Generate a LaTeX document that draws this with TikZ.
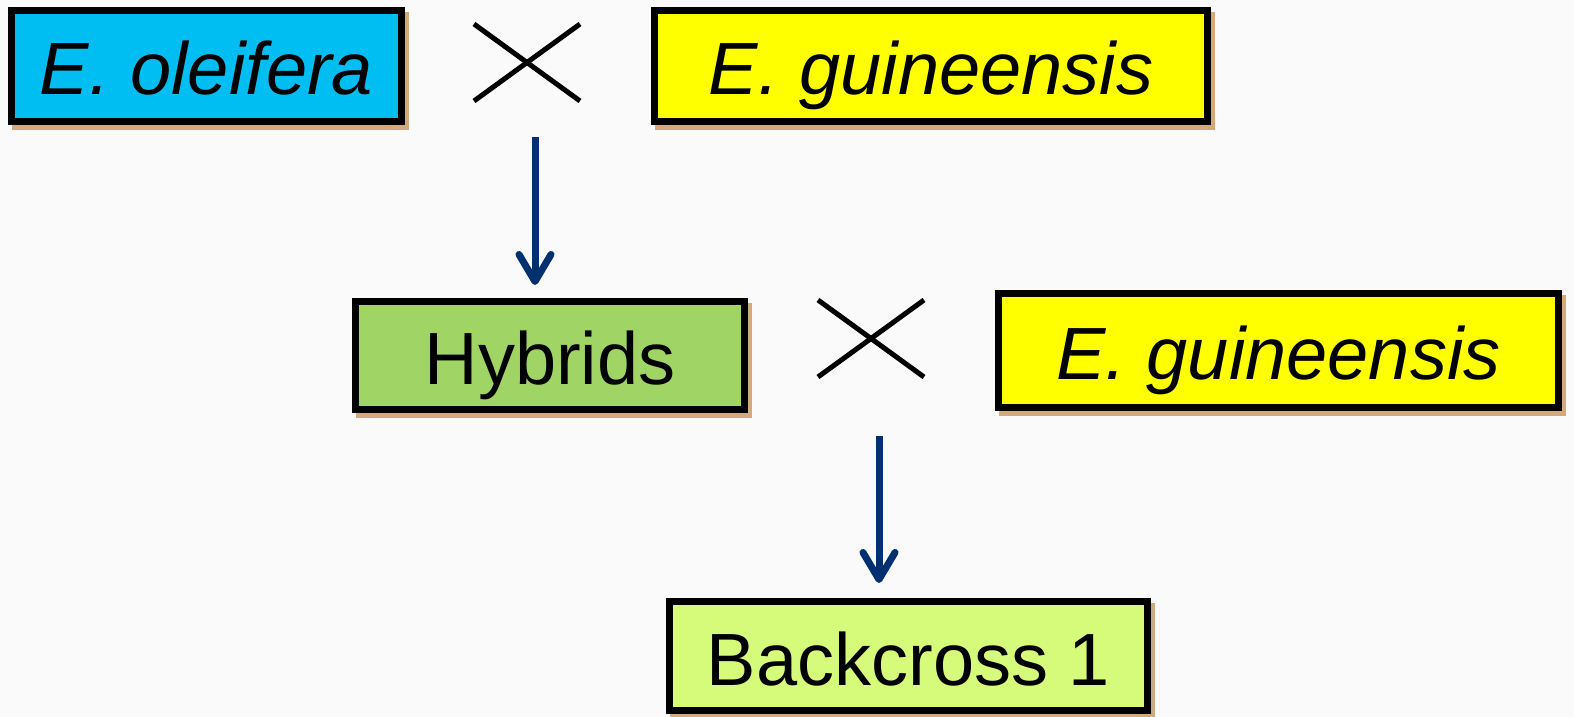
\documentclass[tikz,border=0pt]{standalone}
\usepackage{fontspec}
\setmainfont{Liberation Sans}
\usetikzlibrary{arrows.meta,shadows}
\definecolor{bgc}{RGB}{250,250,250}
\definecolor{cyanc}{RGB}{0,190,242}
\definecolor{yelc}{RGB}{255,255,0}
\definecolor{greenc}{RGB}{160,212,100}
\definecolor{limec}{RGB}{214,250,122}
\definecolor{shadowc}{RGB}{210,170,125}
\definecolor{navyc}{RGB}{0,48,112}
\tikzset{
  species/.style={draw=black, line width=7pt, inner sep=0pt,
    font=\fontsize{74}{90}\selectfont, text height=58pt, text depth=0pt,
    general shadow={draw=shadowc, fill=shadowc, line width=7pt, shadow xshift=4pt, shadow yshift=-5pt}},
  crossline/.style={line width=5pt, black},
  flow/.style={navyc, line width=7pt, -{Straight Barb[length=27pt,width=32pt,round,line width=7pt]}}
}
\begin{document}
\begin{tikzpicture}[x=1pt,y=-1pt]
\fill[bgc] (0,0) rectangle (1574,717);
\useasboundingbox (0,0) rectangle (1574,717);

\node[species, fill=cyanc, minimum width=390pt, minimum height=111pt] (ole) at (206.5,66) {\itshape E. oleifera};
\node[species, fill=yelc, minimum width=553pt, minimum height=111pt] (gui1) at (931,66) {\itshape E. guineensis};
\node[species, fill=greenc, minimum width=389pt, minimum height=108pt] (hyb) at (550,355.5) {Hybrids};
\node[species, fill=yelc, minimum width=560pt, minimum height=114pt] (gui2) at (1278.5,350.5) {\itshape E. guineensis};
\node[species, fill=limec, minimum width=478pt, minimum height=109pt] (bc) at (908.5,656) {Backcross 1};

\coordinate (x1a) at (474,24); \coordinate (x1b) at (580,101);
\coordinate (x1c) at (474,101); \coordinate (x1d) at (580,24);
\draw[crossline] (x1a) -- (x1b);
\draw[crossline] (x1c) -- (x1d);
\coordinate (x2a) at (818,300); \coordinate (x2b) at (924,377);
\coordinate (x2c) at (818,377); \coordinate (x2d) at (924,300);
\draw[crossline] (x2a) -- (x2b);
\draw[crossline] (x2c) -- (x2d);

\coordinate (a1s) at (535,137);
\coordinate (a1e) at (535,285);
\draw[flow] (a1s) -- (a1e);
\coordinate (a2s) at (879,436);
\coordinate (a2e) at (879,583);
\draw[flow] (a2s) -- (a2e);
\end{tikzpicture}
\end{document}
